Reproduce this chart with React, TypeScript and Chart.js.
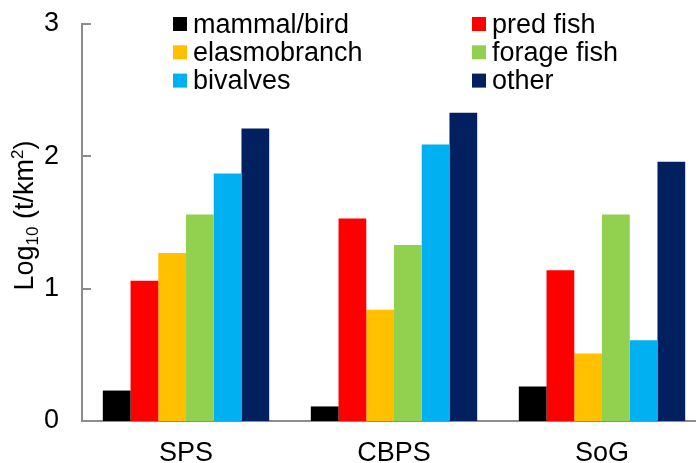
import React, { useEffect, useRef } from "react";
import { Chart, registerables } from "chart.js";

Chart.register(...registerables);

const categories = ["SPS", "CBPS", "SoG"];
const seriesNames = ["mammal/bird", "pred fish", "elasmobranch", "forage fish", "bivalves", "other"];
const seriesColors = ["#000000", "#FF0000", "#FFC000", "#92D050", "#00B0F0", "#002060"];
const mammalBird = [0.23, 0.11, 0.26];
const predFish = [1.06, 1.53, 1.14];
const elasmobranch = [1.27, 0.84, 0.51];
const forageFish = [1.56, 1.33, 1.56];
const bivalves = [1.87, 2.09, 0.61];
const other = [2.21, 2.33, 1.96];
const yTicks = [0, 1, 2, 3];

const seriesValues = [mammalBird, predFish, elasmobranch, forageFish, bivalves, other];
const FONT = "Liberation Sans, Arial, sans-serif";
const AXIS_GREY = "#8c8c8c";

const innerTicksPlugin = {
  id: "innerTicks",
  afterDraw(chart: any) {
    const ctx = chart.ctx;
    const y = chart.scales.y;
    const left = chart.chartArea.left;
    ctx.save();
    ctx.strokeStyle = AXIS_GREY;
    ctx.lineWidth = 2;
    yTicks.forEach((v) => {
      const py = Math.round(y.getPixelForValue(v));
      ctx.beginPath();
      ctx.moveTo(left - 1, py);
      ctx.lineTo(left + 9, py);
      ctx.stroke();
    });
    ctx.restore();
  },
};

const yTitlePlugin = {
  id: "yTitle",
  afterDraw(chart: any) {
    const ctx = chart.ctx;
    const parts: [string, number, number][] = [
      ["Log", 27, 0],
      ["10", 17, 5],
      [" (t/km", 27, 0],
      ["2", 17, -10],
      [")", 27, 0],
    ];
    ctx.save();
    let total = 0;
    parts.forEach(([t, s]) => {
      ctx.font = `${s}px ${FONT}`;
      total += ctx.measureText(t).width;
    });
    const cy = (chart.chartArea.top + chart.chartArea.bottom) / 2 - 7;
    ctx.translate(33, cy);
    ctx.rotate(-Math.PI / 2);
    ctx.fillStyle = "#000";
    ctx.textBaseline = "alphabetic";
    ctx.textAlign = "left";
    let x = -total / 2;
    parts.forEach(([t, s, dy]) => {
      ctx.font = `${s}px ${FONT}`;
      ctx.fillText(t, x, dy);
      x += ctx.measureText(t).width;
    });
    ctx.restore();
  },
};

const legendPlugin = {
  id: "customLegend",
  afterDraw(chart: any) {
    const ctx = chart.ctx;
    const colX = [173, 472];
    const rowY = [24, 52.3, 80.6];
    ctx.save();
    ctx.font = `27px ${FONT}`;
    ctx.textBaseline = "alphabetic";
    ctx.textAlign = "left";
    chart.data.datasets.forEach((ds: any, i: number) => {
      const cx = colX[i % 2];
      const cy = rowY[Math.floor(i / 2)];
      ctx.fillStyle = ds.backgroundColor;
      ctx.fillRect(cx, cy - 7, 14, 14);
      ctx.fillStyle = "#000";
      ctx.fillText(ds.label, cx + 20, cy + 8.5);
    });
    ctx.restore();
  },
};

export default function App() {
  const ref = useRef<HTMLCanvasElement | null>(null);
  useEffect(() => {
    if (!ref.current) return;
    const chart = new Chart(ref.current, {
      type: "bar",
      data: {
        labels: categories,
        datasets: seriesNames.map((name, i) => ({
          label: name,
          data: seriesValues[i],
          backgroundColor: seriesColors[i],
          borderWidth: 0,
          categoryPercentage: 0.8,
          barPercentage: 1.0,
        })),
      },
      options: {
        animation: false,
        responsive: false,
        maintainAspectRatio: false,
        layout: { padding: { left: 21, right: 2, top: 24, bottom: 0 } },
        plugins: { legend: { display: false }, tooltip: { enabled: false } },
        scales: {
          x: {
            offset: true,
            grid: { display: false, drawTicks: false },
            border: { display: true, color: AXIS_GREY, width: 2 },
            ticks: { color: "#000", font: { family: FONT, size: 27 }, padding: 16 },
            afterFit: (axis: any) => {
              axis.height = 42;
              axis.paddingLeft = 0;
              axis.paddingRight = 0;
            },
          },
          y: {
            min: 0,
            max: 3,
            afterBuildTicks: (axis: any) => {
              axis.ticks = yTicks.map((v) => ({ value: v }));
            },
            grid: { display: false, drawTicks: false },
            border: { display: true, color: AXIS_GREY, width: 2 },
            ticks: { color: "#000", font: { family: FONT, size: 27 }, padding: 23 },
            afterFit: (axis: any) => {
              axis.paddingTop = 0;
              axis.paddingBottom = 0;
            },
          },
        },
      },
      plugins: [innerTicksPlugin, yTitlePlugin, legendPlugin],
    });
    return () => chart.destroy();
  }, []);
  return (
    <div style={{ position: "fixed", left: 0, top: 0, width: 696, height: 463, overflow: "hidden", background: "#fff" }}>
      <canvas ref={ref} width={708} height={463} style={{ width: 708, height: 463, display: "block" }} />
    </div>
  );
}
